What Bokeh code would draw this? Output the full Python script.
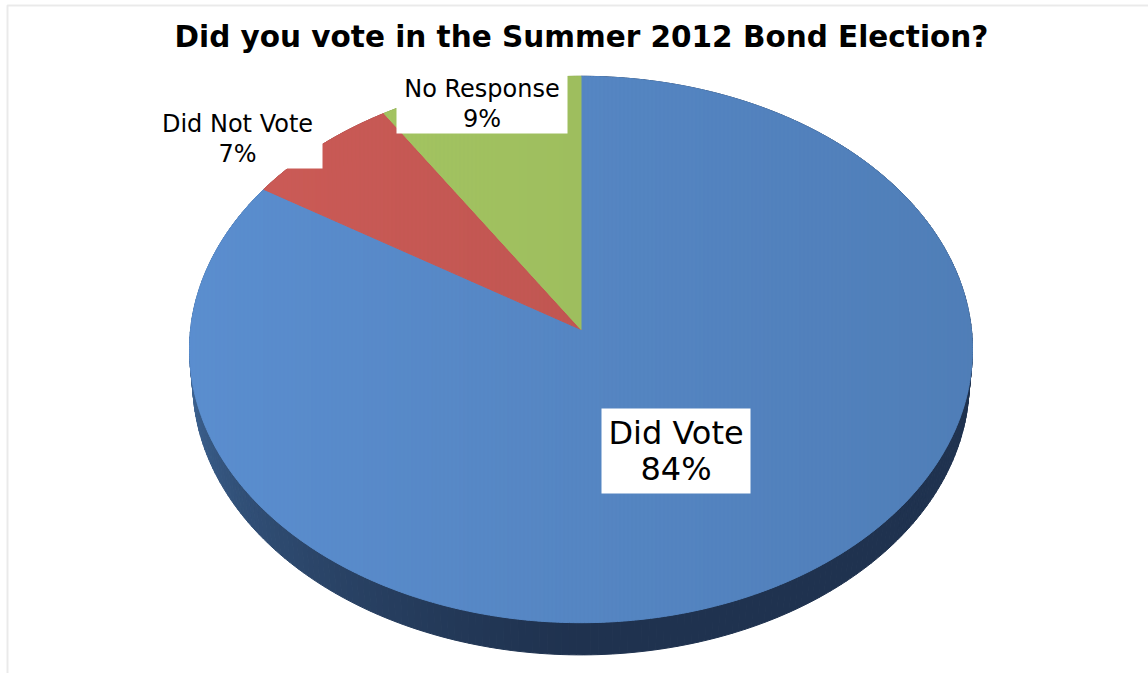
import numpy as np
from bokeh.plotting import figure
from bokeh.models import Range1d, BoxAnnotation
from bokeh.core.properties import value
from bokeh.embed import file_html
from bokeh.resources import INLINE

# Survey answers
labels = ["Did Vote", "Did Not Vote", "No Response"]
shares = [84, 7, 9]
title_text = "Did you vote in the Summer 2012 Bond Election?"

# Slice colours: top face base colour, side dark and side light tones
top_colors = [(85, 134, 195), (193, 86, 82), (158, 190, 94)]
side_dark = [(31, 50, 79), (96, 40, 38), (78, 96, 44)]
side_light = [(64, 104, 152), (150, 66, 62), (120, 146, 70)]

# Label layout (centre, box size, font size, line gap)
label_centers = [(675.5, 450.5), (237.0, 138.0), (481.5, 103.0)]
label_boxes = [(149, 85), (170, 60), (171, 60)]
label_font = ["32px", "24px", "24px"]
label_gap = [18, 15, 15]

W, H = 1148, 673

# Perspective camera for the tilted pie disc
CX, CY = 580.5, 329.0
K = 3830.0
DIST = 9.81
S, C = 0.696, 0.718
THICK = 0.116


def project(theta_deg, r, w):
    t = np.radians(theta_deg)
    u = r * np.sin(t)
    v = -r * np.cos(t)
    yd = v * S - w * C
    z = DIST - v * C - w * S
    return CX + K * u / z, CY + K * yd / z


def rgb(c):
    return "#%02x%02x%02x" % tuple(int(round(min(255, max(0, x)))) for x in c)


def lerp(a, b, t):
    return tuple(a[i] + (b[i] - a[i]) * t for i in range(3))


def clip_half(poly, xc, keep_right):
    # Sutherland-Hodgman clip of a polygon against a vertical line
    out = []
    n = len(poly)
    for k in range(n):
        a = poly[k]
        b = poly[(k + 1) % n]
        ina = a[0] >= xc if keep_right else a[0] <= xc
        inb = b[0] >= xc if keep_right else b[0] <= xc
        if ina:
            out.append(a)
        if ina != inb:
            t = (xc - a[0]) / (b[0] - a[0])
            out.append((xc, a[1] + t * (b[1] - a[1])))
    return out


total = float(sum(shares))
starts, ends = [], []
acc = 0.0
for s in shares:
    starts.append(acc / total * 360.0)
    acc += s
    ends.append(acc / total * 360.0)

p = figure(width=W, height=H, x_range=Range1d(0, W), y_range=Range1d(H, 0),
           x_axis_type=None, y_axis_type=None, toolbar_location=None,
           output_backend="svg", min_border=0, outline_line_color=None,
           background_fill_color="white", border_fill_color="white")
p.grid.visible = False

# Side wall of the disc
side_xs, side_ys, side_cols = [], [], []
for i in range(len(shares)):
    a0, a1 = starts[i], ends[i]
    n = max(2, int(np.ceil((a1 - a0) / 1.0)))
    angs = np.linspace(a0, a1, n + 1)
    for j in range(n):
        t0, t1 = angs[j], angs[j + 1]
        x0, y0 = project(t0, 1.0, 0.0)
        x1, y1 = project(t1, 1.0, 0.0)
        x2, y2 = project(t1, 1.0, -THICK)
        x3, y3 = project(t0, 1.0, -THICK)
        mid = 0.5 * (t0 + t1)
        tt = np.clip((mid - 180.0) / 90.0, 0.0, 1.0) ** 1.3
        side_xs.append([x0, x1, x2, x3])
        side_ys.append([y0, y1, y2, y3])
        side_cols.append(rgb(lerp(side_dark[i], side_light[i], tt)))
p.patches(side_xs, side_ys, fill_color=side_cols, line_color=side_cols, line_width=1)

# Top face, cut into vertical strips for a soft left-to-right light
apex = project(0.0, 0.0, 0.0)
x_left = project(266.0, 1.0, 0.0)[0] - 2
x_right = project(94.0, 1.0, 0.0)[0] + 2
edges = np.arange(x_left, x_right + 4, 4.0)
top_xs, top_ys, top_cols = [], [], []
for i in range(len(shares)):
    arc = np.linspace(starts[i], ends[i], max(8, int((ends[i] - starts[i]) * 2)))
    ax, ay = project(arc, 1.0, 0.0)
    poly = [(float(apex[0]), float(apex[1]))] + list(zip(ax.tolist(), ay.tolist()))
    for e0, e1 in zip(edges[:-1], edges[1:]):
        piece = clip_half(poly, e0, True)
        if len(piece) < 3:
            continue
        piece = clip_half(piece, e1, False)
        if len(piece) < 3:
            continue
        xm = 0.5 * (e0 + e1)
        f = 1.0 - 0.06 * (xm - CX) / 392.0
        col = rgb(tuple(c * f for c in top_colors[i]))
        top_xs.append([q[0] for q in piece])
        top_ys.append([q[1] for q in piece])
        top_cols.append(col)
p.patches(top_xs, top_ys, fill_color=top_cols, line_color=top_cols, line_width=1)

# Data labels on white boxes
for i in range(len(shares)):
    lx, ly = label_centers[i]
    bw, bh = label_boxes[i]
    p.rect(x=[lx], y=[ly], width=bw, height=bh, fill_color="white", line_color=None)
    pct = "%d%%" % round(shares[i] / total * 100)
    p.text(x=[lx, lx], y=[ly - label_gap[i], ly + label_gap[i]], text=[labels[i], pct],
           text_font=value("DejaVu Sans"), text_font_size=label_font[i],
           text_align="center", text_baseline="middle", text_color="black")

# Chart title
p.text(x=[581], y=[36], text=[title_text], text_font=value("DejaVu Sans"),
       text_font_size="29.5px", text_font_style="bold", text_align="center",
       text_baseline="middle", text_color="black")

# Chart area border
p.add_layout(BoxAnnotation(left=7, right=W + 20, top=5, bottom=H + 20,
                           fill_alpha=0, line_color="#BBBBBB", line_width=2))

open("out.html", "w").write(file_html(p, INLINE))
